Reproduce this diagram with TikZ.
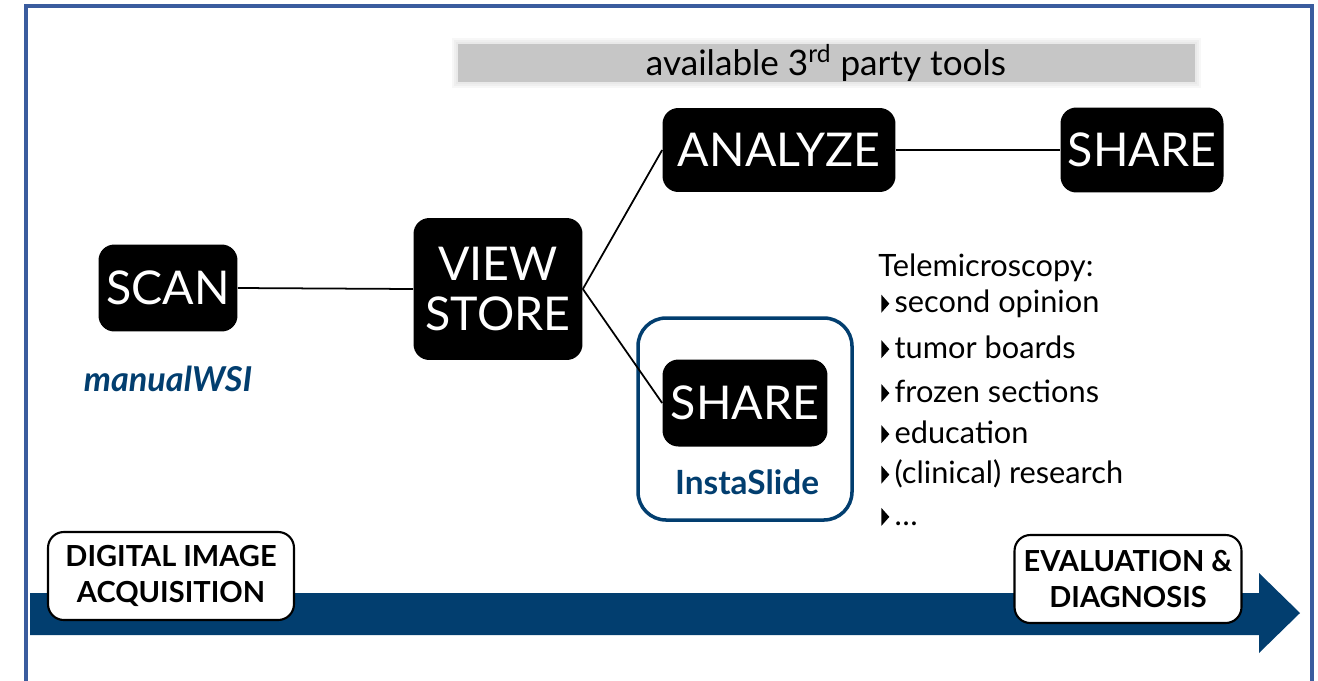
\documentclass[tikz,border=0pt]{standalone}
\usepackage{fontspec}
\setmainfont{Lato}
\usetikzlibrary{positioning}
\definecolor{frameblue}{HTML}{3A5C9E}
\definecolor{navy}{HTML}{023E6F}
\definecolor{bargrey}{HTML}{C6C6C6}
\tikzset{
  stage/.style={rounded corners=9pt, fill=black, text=white, align=center, inner sep=0pt,
    font=\fontsize{26.5}{30}\selectfont},
  phase/.style={rounded corners=9pt, draw, line width=1.2pt, fill=white, align=center, inner sep=0pt,
    font=\bfseries\fontsize{16.5}{20}\selectfont},
  link/.style={line width=1pt},
  item/.style={anchor=west, inner sep=0pt, font=\fontsize{17.5}{19}\selectfont},
  tool/.style={font=\bfseries\fontsize{19}{21}\selectfont, text=navy}
}
\newcommand{\tipmark}{\tikz[baseline=0pt, x=1cm, y=1cm]\fill (0,0.0) -- (0.16,0.18) -- (0,0.36) -- cycle;\hspace{3pt}}

\begin{document}
\begin{tikzpicture}[x=0.02cm, y=-0.02cm]
\useasboundingbox (0,0) rectangle (1318,680);

% frame
\draw[frameblue, line width=2.2pt] (26,700) -- (26,6) -- (1312,6) -- (1312,700);

% third party bar
\foreach \d in {6,4,2}{
  \fill[bargrey, opacity=0.15] (458-\d,44-\d) rectangle (1195+\d,82+\d);
}
\fill[bargrey] (458,44) rectangle (1195,82);
\node (tools) at (826,63) {\fontsize{20}{22}\selectfont available 3\textsuperscript{rd} party tools};

% workflow
\node (scan) [stage, minimum width=2.78cm, minimum height=1.74cm] at (168,288) {SCAN};
\node (wsi) [tool, font=\bfseries\itshape\fontsize{19.5}{21}\selectfont] at (168,379) {manualWSI};
\node (vs) [stage, minimum width=3.38cm, minimum height=2.84cm] at (498,289) {VIEW\\[-2pt]STORE};
\node (an) [stage, minimum width=4.66cm, minimum height=1.68cm] at (779,150) {ANALYZE};
\node (sh1) [stage, minimum width=3.26cm, minimum height=1.70cm] at (1142,150) {SHARE};

\draw[navy, line width=2pt, rounded corners=16pt] (638,318) rectangle (852,520);
\node (sh2) [stage, minimum width=3.3cm, minimum height=1.74cm] at (745,403) {SHARE};
\node (insta) [tool] at (747,482) {InstaSlide};

\draw[link] (scan.east) -- (vs.west);
\draw[link] (vs.east) -- (an.west);
\draw[link] (vs.east) -- (sh2.west);
\draw[link] (an.east) -- (sh1.west);

% telemicroscopy
\node (tele) [item] at (878,268) {Telemicroscopy:};
\foreach \y/\txt [count=\i] in {304/second opinion, 347/tumor boards, 391/frozen sections,
    432/education, 474/(clinical) research, 517/\dots}{
  \node (use\i) [item] at (881,\y) {\tipmark\txt};
}

% time line
\fill[navy] (30,593) -- (1259,593) -- (1259,573) -- (1300,613) -- (1259,653) -- (1259,635) -- (30,635) -- cycle;
\node (acq) [phase, minimum width=4.92cm, minimum height=1.76cm] at (171,576) {DIGITAL IMAGE\\ACQUISITION};
\node (eval) [phase, minimum width=4.54cm, minimum height=1.76cm] at (1128,579) {EVALUATION \&\\DIAGNOSIS};

\end{tikzpicture}
\end{document}
